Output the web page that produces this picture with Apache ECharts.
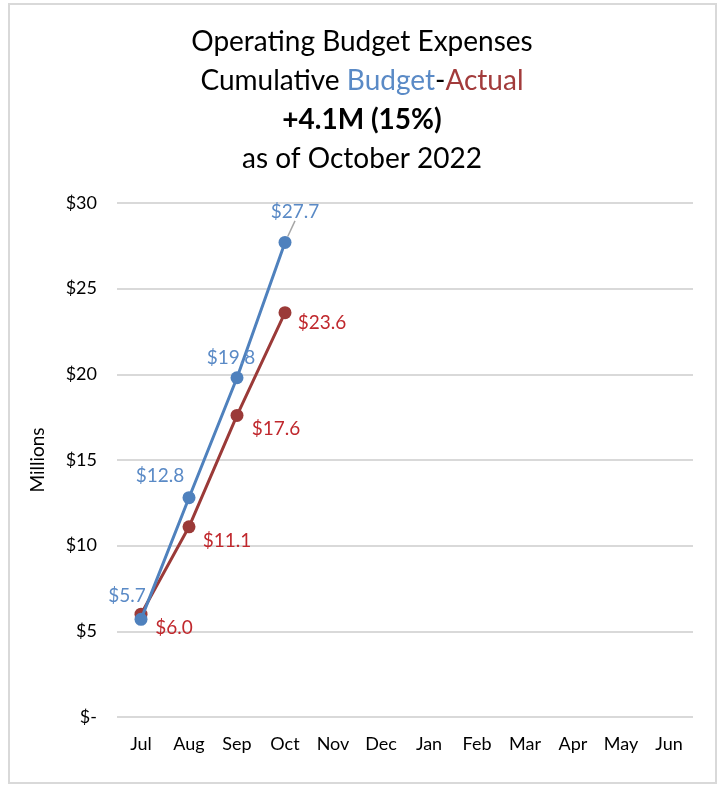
<!DOCTYPE html>
<html>
<head>
<meta charset="utf-8">
<script src="https://cdn.jsdelivr.net/npm/echarts@6/dist/echarts.min.js"></script>
<style>
  html, body { margin: 0; padding: 0; background: #fff; }
  #chart { width: 724px; height: 785px; }
</style>
</head>
<body>
<div id="chart"></div>
<script>
// data (millions)
const months = ['Jul', 'Aug', 'Sep', 'Oct', 'Nov', 'Dec', 'Jan', 'Feb', 'Mar', 'Apr', 'May', 'Jun']
const budget = [5.7, 12.8, 19.8, 27.7]
const actual = [6.0, 11.1, 17.6, 23.6]
const yTicks = [0, 5, 10, 15, 20, 25, 30]

// label placement around each point (px from the point)
const budgetLabelOffset = [[-14, -23], [-29, -22], [-6, -20], [10, -31]]
const actualLabelOffset = [[33, 14], [38, 14], [39, 13], [37, 10]]

const FONT = 'Lato, "Noto Sans", sans-serif'
const BLUE = '#4F81BD'
const RED = '#9B3A38'

const chart = echarts.init(document.getElementById('chart'))

function money (v) {
  return v === 0 ? '$-' : '$' + v
}

function withLabels (values, offsets) {
  return values.map((v, i) => ({
    value: v,
    label: { offset: offsets[i] }
  }))
}

// excel drew a small leader line on the last budget label
const budgetData = withLabels(budget, budgetLabelOffset)
budgetData[budgetData.length - 1].labelLine = {
  show: true,
  lineStyle: { color: '#A6A6A6', width: 1.5 }
}

const option = {
  backgroundColor: '#fff',
  animation: false,
  graphic: [{
    type: 'rect',
    shape: { x: 9, y: 4, width: 707, height: 779 },
    style: { fill: 'none', stroke: '#D9D9D9', lineWidth: 2 },
    silent: true
  }],
  title: {
    left: 'center',
    top: 17,
    text: '{t|Operating Budget Expenses}\n{t|Cumulative }{b|Budget}{t|-}{r|Actual}\n{bold|+4.1M (15%)}\n{t|as of October 2022}',
    textStyle: {
      fontWeight: 'normal',
      rich: {
        t: { fontFamily: FONT, fontSize: 28, fontWeight: 'normal', color: '#000', lineHeight: 39 },
        b: { fontFamily: FONT, fontSize: 28, fontWeight: 'normal', color: '#5A8AC6', lineHeight: 39 },
        r: { fontFamily: FONT, fontSize: 28, fontWeight: 'normal', color: '#A23B3B', lineHeight: 39 },
        bold: { fontFamily: FONT, fontSize: 28, fontWeight: 'bold', color: '#000', lineHeight: 39 }
      }
    }
  },
  grid: {
    left: 117,
    right: 31,
    top: 203,
    bottom: 68
  },
  xAxis: {
    type: 'category',
    data: months,
    boundaryGap: true,
    axisLine: { show: false },
    axisTick: { show: false },
    axisLabel: {
      fontFamily: FONT,
      fontSize: 18,
      color: '#000',
      margin: 18,
      interval: 0
    }
  },
  yAxis: {
    type: 'value',
    min: yTicks[0],
    max: yTicks[yTicks.length - 1],
    interval: 5,
    name: 'Millions',
    nameLocation: 'middle',
    nameGap: 70,
    nameRotate: 90,
    nameTextStyle: { fontFamily: FONT, fontSize: 19, color: '#000' },
    axisLine: { show: false },
    axisTick: { show: false },
    axisLabel: {
      fontFamily: FONT,
      fontSize: 18,
      color: '#000',
      margin: 20,
      formatter: money
    },
    splitLine: { lineStyle: { color: '#D9D9D9', width: 2 } }
  },
  series: [
    {
      name: 'Actual',
      type: 'line',
      data: withLabels(actual, actualLabelOffset),
      symbol: 'circle',
      symbolSize: 13,
      lineStyle: { color: RED, width: 3 },
      itemStyle: { color: RED },
      label: {
        show: true,
        position: 'inside',
        align: 'center',
        verticalAlign: 'middle',
        fontFamily: FONT,
        fontSize: 19,
        color: '#C0282D',
        formatter: p => '$' + p.value.toFixed(1)
      },
      z: 2
    },
    {
      name: 'Budget',
      type: 'line',
      data: budgetData,
      symbol: 'circle',
      symbolSize: 13,
      lineStyle: { color: BLUE, width: 3 },
      itemStyle: { color: BLUE },
      label: {
        show: true,
        position: 'inside',
        align: 'center',
        verticalAlign: 'middle',
        fontFamily: FONT,
        fontSize: 19,
        color: '#5A8AC6',
        formatter: p => '$' + p.value.toFixed(1)
      },
      z: 3
    }
  ]
}

chart.setOption(option)
</script>
</body>
</html>
